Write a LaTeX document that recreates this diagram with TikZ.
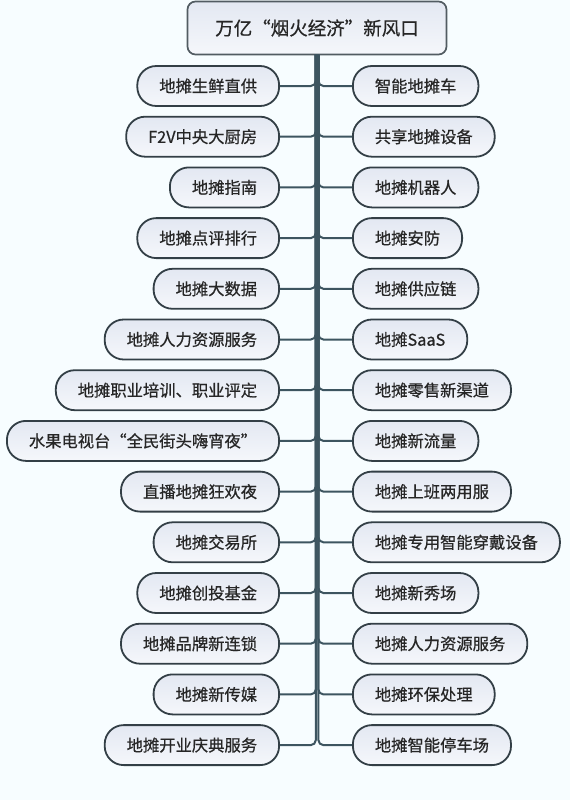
\documentclass[tikz,border=0pt]{standalone}
\usepackage{fontspec}
\setmainfont{Noto Sans CJK SC}[FakeBold=0.6]
\begin{document}
\begin{tikzpicture}[x=1pt,y=-1pt,
  every node/.style={font=\fontsize{16.3}{19}\selectfont, text=textgray},
  item/.style={draw=boxline, line width=1.8pt, rounded corners=19pt,
    top color=boxtop, bottom color=boxbot, minimum height=40pt, inner xsep=22pt, inner ysep=0pt},
  rootbox/.style={draw=boxline!85, line width=1.7pt, rounded corners=8pt,
    top color=boxtop, bottom color=boxbot, minimum width=259pt, minimum height=53pt,
    font=\fontsize{18.5}{21}\selectfont},
  conn/.style={draw=connline, line width=2pt, rounded corners=5pt}
]
\definecolor{textgray}{HTML}{262626}
\definecolor{boxline}{HTML}{333F46}
\definecolor{boxtop}{HTML}{E3E8F2}
\definecolor{boxbot}{HTML}{F5F7FB}
\definecolor{connline}{HTML}{3D5560}
\fill[white!97!cyan] (0,0) rectangle (570,800);
\useasboundingbox (0,0) rectangle (570,800);

\node[rootbox] (root) at (317,28) {万亿“烟火经济”新风口};
\coordinate (tl) at (315.8,55);
\coordinate (tr) at (318.4,55);

\foreach \i/\t in {1/地摊生鲜直供, 2/F2V中央大厨房, 3/地摊指南, 4/地摊点评排行, 5/地摊大数据,
  6/地摊人力资源服务, 7/地摊职业培训、职业评定, 8/水果电视台“全民街头嗨宵夜”, 9/直播地摊狂欢夜,
  10/地摊交易所, 11/地摊创投基金, 12/地摊品牌新连锁, 13/地摊新传媒, 14/地摊开业庆典服务}{
  \node[item, anchor=east] (L\i) at (280, {86+(\i-1)*50.7}) {\t};
  \draw[conn] (tl) |- (L\i.east);
}
\foreach \i/\t in {1/智能地摊车, 2/共享地摊设备, 3/地摊机器人, 4/地摊安防, 5/地摊供应链,
  6/地摊SaaS, 7/地摊零售新渠道, 8/地摊新流量, 9/地摊上班两用服, 10/地摊专用智能穿戴设备,
  11/地摊新秀场, 12/地摊人力资源服务, 13/地摊环保处理, 14/地摊智能停车场}{
  \node[item, anchor=west] (R\i) at (352, {86+(\i-1)*50.7}) {\t};
  \draw[conn] (tr) |- (R\i.west);
}
\end{tikzpicture}
\end{document}
